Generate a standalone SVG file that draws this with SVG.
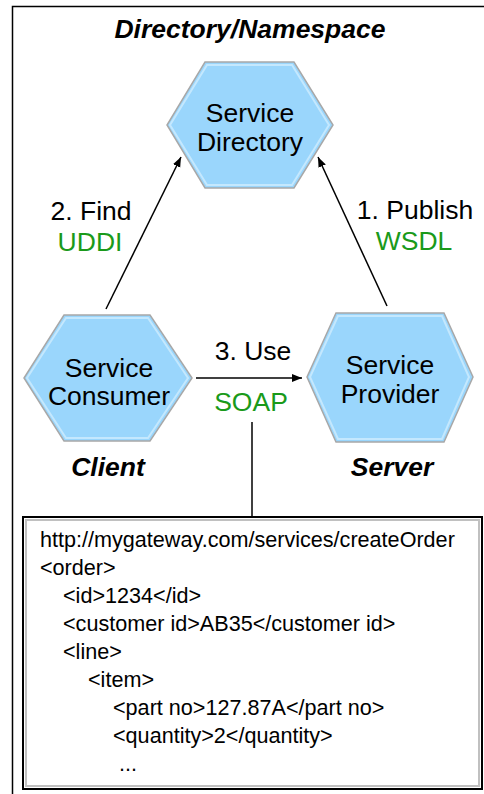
<svg xmlns="http://www.w3.org/2000/svg" width="484" height="794" viewBox="0 0 484 794">
<defs>
<style>
.t{font-family:"Liberation Sans",Arial,sans-serif;font-size:26.5px;fill:#000;text-anchor:middle}
.g{fill:#1a9a1a}
.bi{font-weight:bold;font-style:italic}
.hex{fill:#9ad6fc;stroke:#a8a8a8;stroke-width:1.5}
.hexin{fill:none;stroke:#c4e8fe;stroke-width:2}
.x{font-family:"Liberation Sans",Arial,sans-serif;font-size:21.6px;fill:#000}
.c{stroke:#000;stroke-width:1.5;fill:none}
</style>
<marker id="ah" viewBox="0 0 10 10" refX="10" refY="5" markerWidth="10" markerHeight="10" markerUnits="userSpaceOnUse" orient="auto">
<path d="M0,1 L10,5 L0,9 Z" fill="#000"/>
</marker>
</defs>
<rect x="0" y="0" width="484" height="794" fill="#fff"/>
<path d="M12.5,794 V6.5 H484" fill="none" stroke="#000" stroke-width="1.5"/>
<text class="t bi" x="250" y="38">Directory/Namespace</text>

<g id="directory">
<polygon class="hex" points="205,62 294,62 333,125 294,188 205,188 167,125"/>
<polygon class="hexin" points="207,65 292,65 329,125 292,185 207,185 170,125"/>
<text class="t" x="250" y="122">Service</text>
<text class="t" x="250" y="151">Directory</text>
</g>

<g id="consumer">
<polygon class="hex" points="64,315 150,315 192,378 150,441 64,441 24,378"/>
<polygon class="hexin" points="66,318 148,318 188,378 148,438 66,438 27,378"/>
<text class="t" x="109" y="377">Service</text>
<text class="t" x="109" y="405">Consumer</text>
</g>

<g id="provider">
<polygon class="hex" points="336,313 444,313 473,377 444,442 336,442 307,377"/>
<polygon class="hexin" points="338,316 442,316 469,377 442,439 338,439 310,377"/>
<text class="t" x="390" y="374">Service</text>
<text class="t" x="390" y="403">Provider</text>
</g>

<g id="client"><text class="t bi" x="108" y="476">Client</text></g>
<g id="server"><text class="t bi" x="392" y="476">Server</text></g>

<g id="connectors">
<line class="c" x1="106" y1="309" x2="181" y2="157" marker-end="url(#ah)"/>
<line class="c" x1="387" y1="306" x2="318" y2="157" marker-end="url(#ah)"/>
<line class="c" x1="196" y1="378" x2="302" y2="378" marker-end="url(#ah)"/>
<line class="c" x1="252" y1="422" x2="252" y2="517"/>
</g>

<g id="labels">
<text class="t" x="91" y="220">2. Find</text>
<text class="t g" x="90" y="251">UDDI</text>
<text class="t" x="415" y="219">1. Publish</text>
<text class="t g" x="414" y="250">WSDL</text>
<text class="t" x="253" y="360">3. Use</text>
<text class="t g" x="251" y="411">SOAP</text>
</g>

<g id="message">
<rect x="23" y="517" width="459" height="272" fill="#fff" stroke="#000" stroke-width="2"/>
<rect x="26" y="520" width="453" height="266" fill="none" stroke="#c0c0c0" stroke-width="2"/>
<text class="x" x="40" y="547">http://mygateway.com/services/createOrder</text>
<text class="x" x="40" y="575">&lt;order&gt;</text>
<text class="x" x="63" y="603">&lt;id&gt;1234&lt;/id&gt;</text>
<text class="x" x="63" y="631">&lt;customer id&gt;AB35&lt;/customer id&gt;</text>
<text class="x" x="63" y="659">&lt;line&gt;</text>
<text class="x" x="88" y="687">&lt;item&gt;</text>
<text class="x" x="113" y="715">&lt;part no&gt;127.87A&lt;/part no&gt;</text>
<text class="x" x="113" y="743">&lt;quantity&gt;2&lt;/quantity&gt;</text>
<text class="x" x="119" y="771">...</text>
</g>
</svg>
